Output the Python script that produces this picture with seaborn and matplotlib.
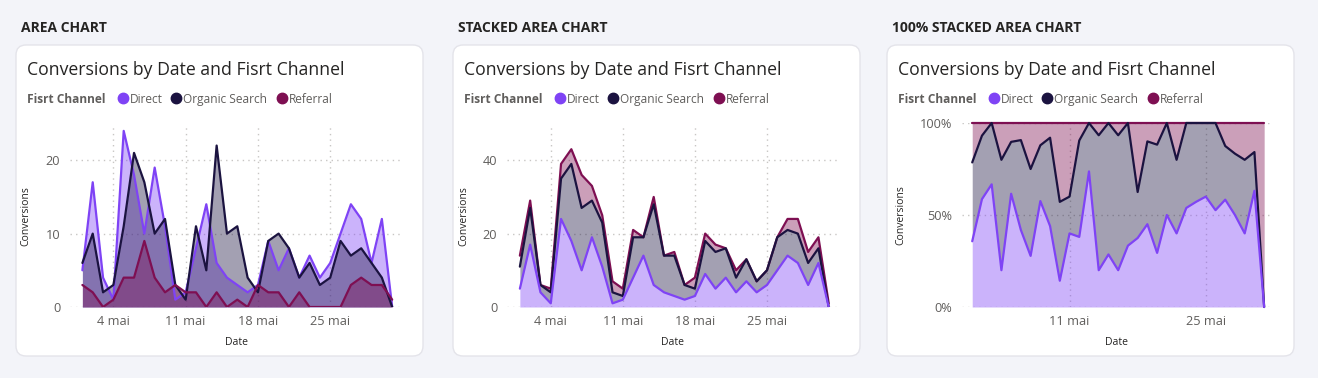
import numpy as np
import pandas as pd
import matplotlib
matplotlib.use("Agg")
import matplotlib.pyplot as plt
import matplotlib.dates as mdates
from matplotlib.patches import FancyBboxPatch
from matplotlib.lines import Line2D
from matplotlib.transforms import IdentityTransform
from matplotlib.ticker import FuncFormatter
import seaborn as sns

# ================= DADOS =================
dates = pd.date_range("2024-05-01", "2024-05-31", freq="D")
direct = [5, 17, 4, 1, 24, 18, 10, 19, 11, 1, 2, 8, 14, 6, 4, 3,
          2, 3, 9, 5, 8, 4, 7, 4, 6, 10, 14, 12, 6, 12, 0]
organic = [6, 10, 2, 3, 11, 21, 17, 10, 12, 3, 1, 11, 5, 22, 10, 11,
           4, 2, 9, 10, 8, 4, 6, 3, 4, 9, 7, 8, 6, 4, 0]
referral = [3, 2, 0, 1, 4, 4, 9, 4, 2, 3, 2, 2, 0, 2, 0, 1,
            0, 3, 2, 2, 0, 2, 0, 0, 0, 0, 3, 4, 3, 3, 1]
channels = ["Direct", "Organic Search", "Referral"]
headings = ["AREA CHART", "STACKED AREA CHART", "100% STACKED AREA CHART"]

# ================= ESTILO =================
COLORS = {"Direct": "#7F43F5", "Organic Search": "#1B1340", "Referral": "#7E0F52"}
BG = "#F3F4F9"
W, H = 1318, 378

sns.set_theme(style="white")
plt.rcParams["font.family"] = ["Open Sans", "DejaVu Sans"]

df = pd.DataFrame({"Date": dates, "Direct": direct,
                   "Organic Search": organic, "Referral": referral})


def px_box(l, t, r, b):
    return [l / W, 1 - b / H, (r - l) / W, (b - t) / H]


def fx(x):
    return x / W


def fy(y):
    return 1 - y / H


fig = plt.figure(figsize=(W / 100, H / 100), dpi=100, facecolor=BG)

card_left = [16, 453, 887]
card_w = 407
axes_box = [(70, 125, 402, 307), (507, 125, 838, 307), (962, 123, 1270, 307)]

# cartões brancos (atrás dos eixos)
for cl in card_left:
    fig.add_artist(FancyBboxPatch((cl, H - 356), card_w, 311,
                                  boxstyle="round,pad=0,rounding_size=10",
                                  transform=IdentityTransform(), zorder=-5,
                                  facecolor="white", edgecolor="#E4E4EA", lw=1))

# títulos e legendas
for cl, head in zip(card_left, headings):
    fig.text(fx(cl + 5), fy(26), head, fontsize=10, fontweight="bold",
             color="#252423", va="center_baseline")
    fig.text(fx(cl + 11), fy(68), "Conversions by Date and Fisrt Channel",
             fontsize=12.7, color="#252423", va="center_baseline")
    fig.text(fx(cl + 11), fy(98), "Fisrt Channel", fontsize=8.6,
             fontweight="bold", color="#605E5C", va="center_baseline")
    offs = [(107, 114), (160, 167), (266, 273)]
    for ch, (cx, tx) in zip(channels, offs):
        fig.add_artist(Line2D([fx(cl + cx)], [fy(98)], marker="o", markersize=7.5,
                              color=COLORS[ch], transform=fig.transFigure))
        fig.text(fx(cl + tx), fy(98), ch, fontsize=8.6, color="#605E5C",
                 va="center_baseline")


def style_axis(ax, yticks, ylim, xmarks, pct=False):
    ax.set_facecolor("none")
    for s in ax.spines.values():
        s.set_visible(False)
    ax.set_ylim(*ylim)
    ax.set_yticks(yticks)
    if pct:
        ax.yaxis.set_major_formatter(FuncFormatter(lambda v, p: f"{v*100:.0f}%"))
    ax.xaxis.set_major_locator(mdates.DayLocator(bymonthday=xmarks))
    ax.xaxis.set_major_formatter(FuncFormatter(
        lambda v, p: f"{mdates.num2date(v).day} mai"))
    ax.tick_params(axis="both", length=0, labelsize=9.2, colors="#605E5C")
    ax.tick_params(axis="y", pad=7)
    ax.tick_params(axis="x", pad=6)
    ax.grid(True, linestyle=(0, (1, 3)), color="#C8C6C4", lw=1)
    ax.set_axisbelow(True)
    ax.set_xlabel("Date", fontsize=7.5, color="#252423", labelpad=6)
    ax.set_ylabel("Conversions", fontsize=7.5, color="#252423", labelpad=10)


def xlim_days(ax, before, after):
    ax.set_xlim(dates[0] - pd.Timedelta(days=before),
                dates[-1] + pd.Timedelta(days=after))


# ---------- 1. AREA CHART ----------
ax1 = fig.add_axes(px_box(*axes_box[0]))
long = df.melt(id_vars="Date", var_name="Channel", value_name="Conversions")
for ch in channels:
    ax1.fill_between(df["Date"], df[ch], 0, color=COLORS[ch], alpha=0.4, lw=0)
sns.lineplot(data=long, x="Date", y="Conversions", hue="Channel",
             palette=COLORS, lw=1.6, legend=False, ax=ax1)
style_axis(ax1, [0, 10, 20], (0, 24.8), [4, 11, 18, 25])
xlim_days(ax1, 1.2, 0.95)

# ---------- 2. STACKED AREA CHART ----------
ax2 = fig.add_axes(px_box(*axes_box[1]))
cum = df[channels].cumsum(axis=1)
cum["Date"] = df["Date"]
prev = np.zeros(len(df))
for ch in channels:
    ax2.fill_between(cum["Date"], cum[ch], prev, color=COLORS[ch], alpha=0.4, lw=0)
    prev = cum[ch].values
long2 = cum.melt(id_vars="Date", var_name="Channel", value_name="Conversions")
sns.lineplot(data=long2, x="Date", y="Conversions", hue="Channel",
             hue_order=channels[::-1], palette=COLORS, lw=1.6, legend=False, ax=ax2)
style_axis(ax2, [0, 20, 40], (0, 49.6), [4, 11, 18, 25])
xlim_days(ax2, 1.25, 0.9)

# ---------- 3. 100% STACKED AREA CHART ----------
ax3 = fig.add_axes(px_box(*axes_box[2]))
tot = df[channels].sum(axis=1)
share = df[channels].div(tot, axis=0).cumsum(axis=1)
share["Date"] = df["Date"]
prev = np.zeros(len(df))
for ch in channels:
    ax3.fill_between(share["Date"], share[ch], prev, color=COLORS[ch], alpha=0.4, lw=0)
    prev = share[ch].values
long3 = share.melt(id_vars="Date", var_name="Channel", value_name="Conversions")
sns.lineplot(data=long3, x="Date", y="Conversions", hue="Channel",
             hue_order=channels[::-1], palette=COLORS, lw=1.6, legend=False,
             ax=ax3)
for ln in ax3.lines:
    ln.set_clip_on(False)
style_axis(ax3, [0, 0.5, 1.0], (0, 1.0), [11, 25], pct=True)
xlim_days(ax3, 1.05, 0.6)

fig.savefig("out.png", dpi=100, facecolor=BG)
